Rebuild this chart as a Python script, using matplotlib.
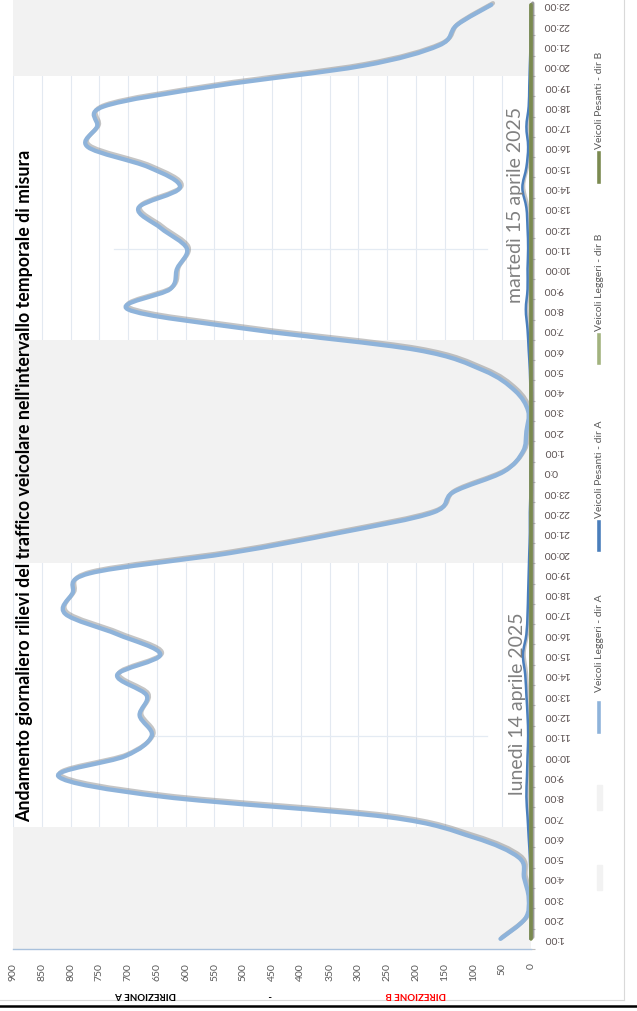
import numpy as np
import matplotlib
matplotlib.use('Agg')
import matplotlib.pyplot as plt
from matplotlib.path import Path
from matplotlib.patches import PathPatch, Rectangle
from matplotlib.lines import Line2D
import matplotlib.patheffects as pe

plt.rcParams['font.family'] = ['Lato', 'DejaVu Sans']

# ---------------- data ----------------
time_labels = ['1:00', '2:00', '3:00', '4:00', '5:00', '6:00', '7:00', '8:00', '9:00', '10:00',
               '11:00', '12:00', '13:00', '14:00', '15:00', '16:00', '17:00', '18:00', '19:00',
               '20:00', '21:00', '22:00', '23:00',
               '0:0', '1:00', '2:00', '3:00', '4:00', '5:00', '6:00', '7:00', '8:00', '9:00',
               '10:00', '11:00', '12:00', '13:00', '14:00', '15:00', '16:00', '17:00', '18:00',
               '19:00', '20:00', '21:00', '22:00', '23:00']

leggeri_dir_a = [53, 10, 4, 12, 21, 100, 250, 640, 821, 705, 659, 680, 668, 719, 644, 719, 809,
                 797, 767, 523, 332, 170, 135,
                 48, 14, 8, 5, 28, 83, 198, 483, 700, 627, 615, 598, 643, 682, 610, 664, 770,
                 754, 742, 549, 292, 160, 129, 69]
pesanti_dir_a = [1, 0, 0, 1, 2, 4, 6, 8, 7, 6, 5, 6, 8, 10, 14, 8, 6, 5, 4, 3, 2, 2, 1,
                 1, 0, 0, 0, 1, 2, 4, 6, 9, 6, 6, 5, 6, 8, 15, 8, 5, 8, 4, 3, 2, 1, 1, 0]
leggeri_dir_b = [0] * 47
pesanti_dir_b = [0] * 47
# night band (bars spanning the full value axis)
notte = [900, 900, 900, 900, 900, 900, 0, 0, 0, 0, 0, 0, 0, 0, 0, 0, 0, 0, 0,
         900, 900, 900, 900,
         900, 900, 900, 900, 900, 900, 900, 0, 0, 0, 0, 0, 0, 0, 0, 0, 0, 0, 0, 0,
         900, 900, 900, 900]

value_ticks = list(range(0, 901, 50))
series_names = ['Veicoli Leggeri - dir A', 'Veicoli Pesanti - dir A',
                'Veicoli Leggeri - dir B', 'Veicoli Pesanti - dir B']
series_colors = ['#8eb3da', '#4a7ebb', '#a2b37e', '#7b8a50']
title = "Andamento giornaliero rilievi del traffico veicolare nell'intervallo temporale di misura"
date_labels = ['lunedì 14 aprile 2025', 'martedì 15 aprile 2025']

# ---------------- figure ----------------
W, H = 637, 1011
fig = plt.figure(figsize=(W / 100, H / 100), dpi=100)
fig.patch.set_facecolor('white')


def fx(x):
    return x / W


def fy(y):
    return 1 - y / H


ax_left, ax_right, ax_top, ax_bottom = 13, 531, -5.3, 949
ax = fig.add_axes([fx(ax_left), fy(ax_bottom), (ax_right - ax_left) / W, (ax_bottom - ax_top) / H])
ax.set_facecolor('none')
idx = np.arange(len(time_labels))

# night bands
ax.barh(idx, notte, height=1.0, left=0, color='#f2f2f2', zorder=1)

ax.set_xlim(900, 0)
ax.set_ylim(-0.5, len(time_labels) - 0.5)


def smooth_path(vals):
    pts = np.column_stack([np.asarray(vals, float), idx.astype(float)])
    n = len(pts)
    verts = [pts[0]]
    codes = [Path.MOVETO]
    for i in range(n - 1):
        p0 = pts[max(i - 1, 0)]
        p1 = pts[i]
        p2 = pts[i + 1]
        p3 = pts[min(i + 2, n - 1)]
        verts += [p1 + (p2 - p0) / 6.0, p2 - (p3 - p1) / 6.0, p2]
        codes += [Path.CURVE4] * 3
    return Path(verts, codes)


series = [leggeri_dir_a, pesanti_dir_a, leggeri_dir_b, pesanti_dir_b]
widths = [3.1, 1.8, 2.4, 2.6]
for vals, col, lw in zip(series, series_colors, widths):
    patch = PathPatch(smooth_path(vals), facecolor='none', edgecolor=col, lw=lw,
                      capstyle='round', joinstyle='round', zorder=4, clip_on=False)
    patch.set_path_effects([pe.SimpleLineShadow(offset=(1.2, 1.2), shadow_color='#808080', alpha=0.45),
                            pe.Normal()])
    ax.add_patch(patch)

# faint drop lines at 11:00
ax.plot([76, 664], [10, 10], color='#e4ebf3', lw=0.9, zorder=2)
ax.plot([76, 725], [34, 34], color='#e4ebf3', lw=0.9, zorder=2)

# value axis
ax.set_xticks(value_ticks)
ax.set_xticklabels([str(v) for v in value_ticks], rotation=90, fontsize=7.5, color='#595959')
ax.tick_params(axis='x', length=0, pad=10)
ax.xaxis.grid(True, color='#e3e9f1', lw=0.8, zorder=0)
ax.set_axisbelow(True)

# category axis (right side, labels upside-down)
ax.yaxis.tick_right()
ax.set_yticks(idx)
ax.set_yticklabels(time_labels, rotation=180, ha='left', va='center', fontsize=7.5, color='#5a5050')
ax.tick_params(axis='y', which='major', length=0, pad=9)
ax.set_yticks(np.arange(-0.5, len(time_labels), 1.0), minor=True)
ax.tick_params(axis='y', which='minor', length=3, color='#bfbfbf', width=0.8)
ax.yaxis.grid(False)

for s in ['top', 'left', 'right']:
    ax.spines[s].set_visible(False)
ax.spines['bottom'].set_color('#a9c1dc')
ax.spines['bottom'].set_linewidth(1.0)

# direction labels under the value axis
fig.text(fx(146), fy(995), 'DIREZIONE A', rotation=180, ha='center', va='center',
         fontsize=7, fontweight='bold', color='black')
fig.text(fx(270), fy(995), '-', rotation=180, ha='center', va='center',
         fontsize=7, fontweight='bold', color='black')
fig.text(fx(416), fy(995), 'DIREZIONE B', rotation=180, ha='center', va='center',
         fontsize=7, fontweight='bold', color='red')

# title
fig.text(fx(25), fy(822), title, rotation=90, ha='center', va='bottom',
         fontsize=12.8, fontweight='bold', color='black')

# date labels
fig.text(fx(517), fy(795), date_labels[0], rotation=90, ha='center', va='bottom',
         fontsize=14, color='#808080')
fig.text(fx(516), fy(303), date_labels[1], rotation=90, ha='center', va='bottom',
         fontsize=14, color='#808080')

# legend (manual, rotated)
leg_marker = [(703, 732), (522, 550), (335, 363), (153, 182)]
leg_text = [692, 518, 331, 149]
for name, col, (y0, y1), ty in zip(series_names, series_colors, leg_marker, leg_text):
    fig.add_artist(Line2D([fx(599), fx(599)], [fy(y0), fy(y1)], color=col, lw=2.6,
                          transform=fig.transFigure))
    fig.text(fx(599), fy(ty), name, rotation=90, ha='center', va='bottom',
             fontsize=7.5, color='#595959')
for y0, y1 in [(785, 810), (865, 890)]:
    fig.add_artist(Rectangle((fx(597), fy(y1)), fx(5), (y1 - y0) / H, color='#f2f2f2',
                             transform=fig.transFigure))

# chart area border and bottom rule
fig.add_artist(Line2D([fx(624), fx(624)], [fy(0), fy(1000)], color='#d9d9d9', lw=0.8,
                      transform=fig.transFigure))
fig.add_artist(Line2D([fx(0), fx(624)], [fy(1000), fy(1000)], color='#d9d9d9', lw=0.8,
                      transform=fig.transFigure))
fig.add_artist(Line2D([0, 1], [fy(1006), fy(1006)], color='black', lw=1.8,
                      transform=fig.transFigure))

fig.savefig('out.png', dpi=100)
